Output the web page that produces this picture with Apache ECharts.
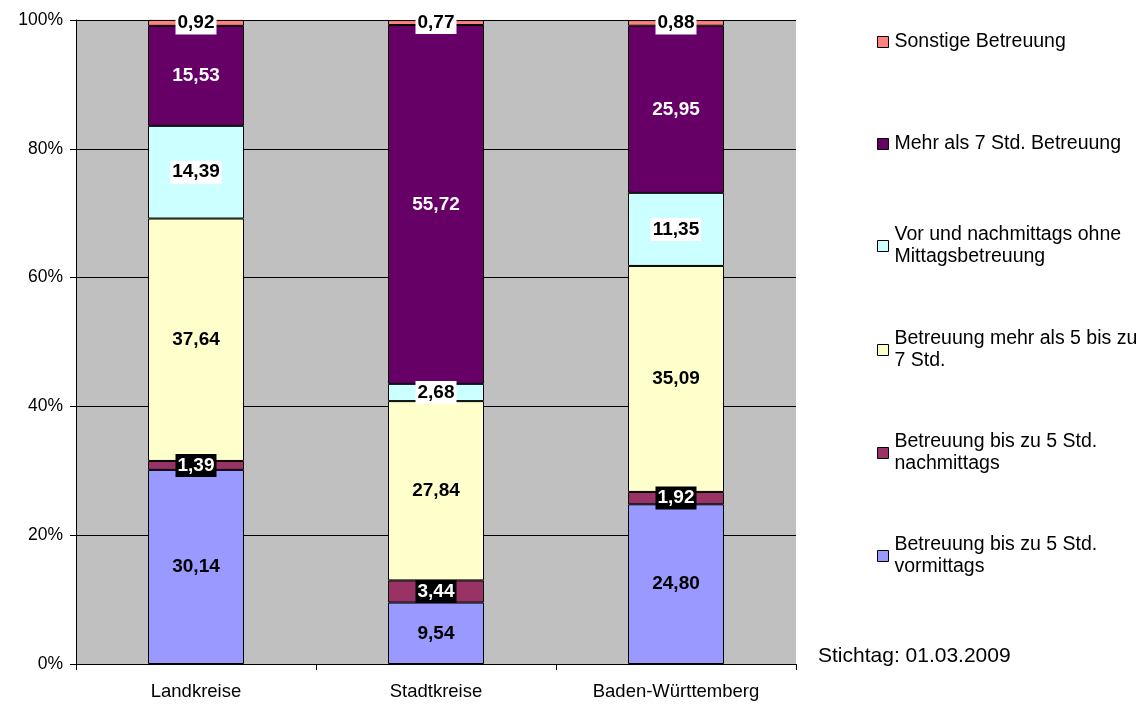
<!DOCTYPE html>
<html>
<head>
<meta charset="utf-8">
<script src="https://cdn.jsdelivr.net/npm/echarts@6/dist/echarts.min.js"></script>
<style>
  html, body { margin: 0; padding: 0; background: #fff; }
  #chart { width: 1146px; height: 704px; }
</style>
</head>
<body>
<div id="chart"></div>
<script>
// Kategorien und Werte (Anteile in %)
var categories = ['Landkreise', 'Stadtkreise', 'Baden-Württemberg'];
var vormittags = [30.14, 9.54, 24.80];
var nachmittags = [1.39, 3.44, 1.92];
var mehrAls5 = [37.64, 27.84, 35.09];
var vorUndNach = [14.39, 2.68, 11.35];
var mehrAls7 = [15.53, 55.72, 25.95];
var sonstige = [0.92, 0.77, 0.88];
var yTicks = [0, 20, 40, 60, 80, 100];

var font = 'Liberation Sans, Arial, sans-serif';

function fmt(p) {
    return p.value.toFixed(2).replace('.', ',');
}

function lbl(color, bg) {
    var l = {
        show: true,
        position: 'inside',
        formatter: fmt,
        color: color,
        fontFamily: font,
        fontWeight: 'bold',
        fontSize: 19
    };
    if (bg) {
        l.backgroundColor = bg;
        l.padding = [3, 2, 1, 2];
    }
    return l;
}

// Reihenfolge: unten nach oben
var seriesDef = [
    {name: 'Betreuung bis zu 5 Std. vormittags', legend: 'Betreuung bis zu 5 Std.\nvormittags', data: vormittags, color: '#9999FF', label: lbl('#000')},
    {name: 'Betreuung bis zu 5 Std. nachmittags', legend: 'Betreuung bis zu 5 Std.\nnachmittags', data: nachmittags, color: '#993366', label: lbl('#fff', '#000')},
    {name: 'Betreuung mehr als 5 bis zu 7 Std.', legend: 'Betreuung mehr als 5 bis zu\n7 Std.', data: mehrAls5, color: '#FFFFCC', label: lbl('#000')},
    {name: 'Vor und nachmittags ohne Mittagsbetreuung', legend: 'Vor und nachmittags ohne\nMittagsbetreuung', data: vorUndNach, color: '#CCFFFF', label: lbl('#000', '#fff')},
    {name: 'Mehr als 7 Std. Betreuung', legend: 'Mehr als 7 Std. Betreuung', data: mehrAls7, color: '#660066', label: lbl('#fff')},
    {name: 'Sonstige Betreuung', legend: 'Sonstige Betreuung', data: sonstige, color: '#FF8080', label: lbl('#000', '#fff')}
];

var series = seriesDef.map(function (s) {
    return {
        name: s.name,
        type: 'bar',
        stack: 'total',
        barWidth: 96,
        data: s.data,
        itemStyle: {color: s.color, borderColor: '#000', borderWidth: 1},
        label: s.label,
        emphasis: {disabled: true}
    };
});

// Legende rechts, oben beginnend mit "Sonstige"
var legendCenters = [42, 144, 246, 350, 453, 556];
var legends = [];
seriesDef.slice().reverse().forEach(function (s, i) {
    var twoLines = s.legend.indexOf('\n') >= 0;
    legends.push({
        data: [s.name],
        left: 877,
        top: legendCenters[i] - (twoLines ? 33 : 11),
        padding: 0,
        icon: 'rect',
        itemWidth: 11,
        itemHeight: 11,
        itemGap: 0,
        selectedMode: false,
        formatter: function () { return s.legend; },
        itemStyle: {borderColor: '#000', borderWidth: 1},
        textStyle: {
            color: '#000',
            fontFamily: font,
            fontSize: 19.5,
            lineHeight: 22,
            padding: twoLines ? [22, 0, 0, 1] : [0, 0, 0, 1]
        }
    });
});

var chart = echarts.init(document.getElementById('chart'));

var option = {
    animation: false,
    backgroundColor: '#fff',
    grid: {
        left: 76,
        right: 350,
        top: 20,
        bottom: 40,
        show: true,
        backgroundColor: '#C0C0C0',
        borderWidth: 0
    },
    legend: legends,
    xAxis: {
        type: 'category',
        data: categories,
        axisLine: {lineStyle: {color: '#000', width: 1}},
        axisTick: {show: true, length: 6, lineStyle: {color: '#000'}},
        axisLabel: {color: '#000', fontFamily: font, fontSize: 18.5, margin: 18}
    },
    yAxis: {
        type: 'value',
        min: yTicks[0],
        max: yTicks[yTicks.length - 1],
        interval: 20,
        axisLine: {show: true, lineStyle: {color: '#000', width: 1}},
        axisTick: {show: true, length: 6, lineStyle: {color: '#000'}},
        axisLabel: {color: '#000', fontFamily: font, fontSize: 17.5, margin: 13, formatter: '{value}%'},
        splitLine: {lineStyle: {color: '#000', width: 1}}
    },
    series: series,
    graphic: [{
        type: 'text',
        left: 818,
        top: 646,
        style: {text: 'Stichtag: 01.03.2009', fill: '#000', font: '21px ' + font}
    }]
};

chart.setOption(option);
</script>
</body>
</html>
